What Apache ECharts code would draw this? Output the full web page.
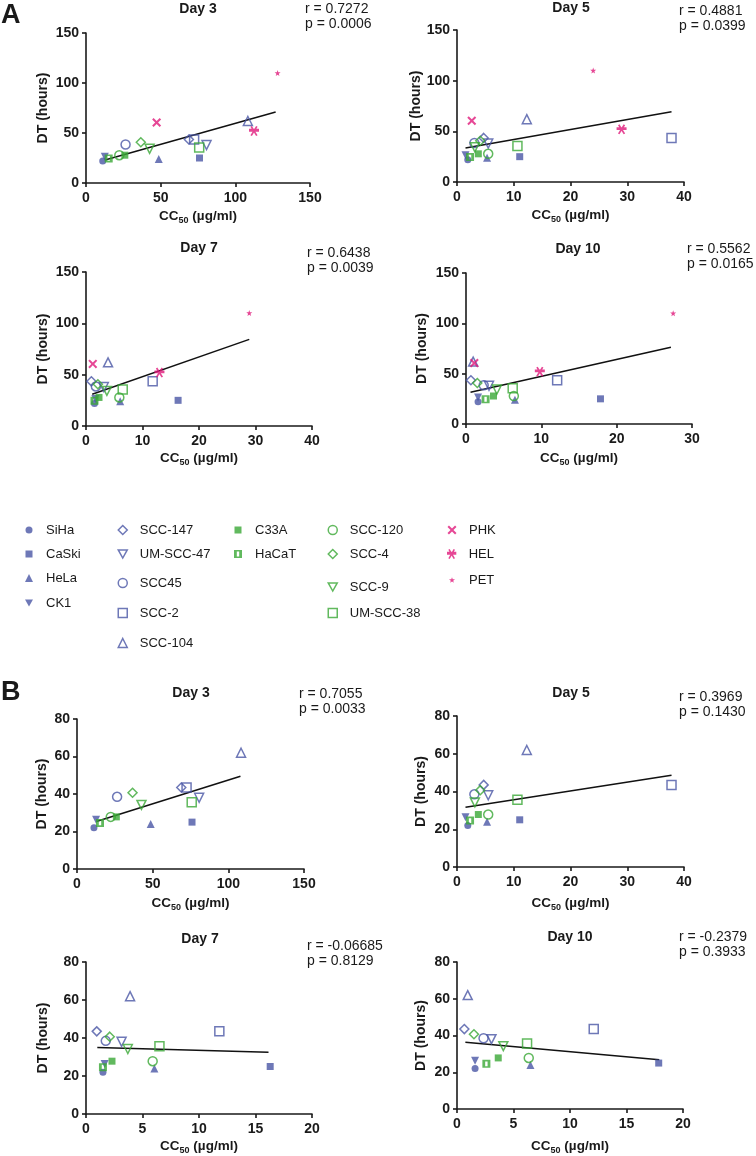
<!DOCTYPE html>
<html><head><meta charset="utf-8">
<script src="https://cdn.jsdelivr.net/npm/echarts@6/dist/echarts.min.js"></script>
<style>html,body{margin:0;padding:0;background:#fff}#c{width:756px;height:1156px}</style>
</head><body><div id="c"></div>
<script>
// ---------------- DATA ----------------
const cellLines = ['SiHa','CaSki','HeLa','CK1','SCC-147','UM-SCC-47','SCC45','SCC-2','SCC-104',
  'C33A','HaCaT','SCC-120','SCC-4','SCC-9','UM-SCC-38','PHK','HEL','PET'];
const normalCells = ['PHK','HEL','PET']; // shown only in panel A
const dtHours   = [22, 25, 24, 26.3, 43.5, 38, 38.5, 43.5, 62, 27.8, 24.6, 27.8, 40.7, 34.2, 35.6, 60.5, 52, 110];
const cc50Day3  = [11.2, 76, 48.7, 12.6, 68.9, 80.7, 26.5, 72.4, 108.4, 26, 15.2, 22.3, 36.7, 42.6, 75.8, 47.3, 112.5, 128.3];
const cc50Day5  = [1.9, 11.05, 5.3, 1.5, 4.7, 5.5, 3.06, 37.8, 12.3, 3.76, 2.3, 5.5, 4.1, 3.15, 10.65, 2.6, 29, 24];
const cc50Day7  = [1.5, 16.3, 6.05, 1.65, 0.95, 3.15, 1.75, 11.8, 3.9, 2.3, 1.5, 5.9, 2.1, 3.7, 6.5, 1.2, 13, 28.9];
const cc50Day10 = [1.6, 17.85, 6.5, 1.6, 0.65, 3.05, 2.35, 12.1, 0.95, 3.65, 2.6, 6.35, 1.5, 4.1, 6.2, 1.1, 9.8, 27.5];
const days = ['Day 3','Day 5','Day 7','Day 10'];
const rA = ['0.7272','0.4881','0.6438','0.5562'];
const pA = ['0.0006','0.0399','0.0039','0.0165'];
const rB = ['0.7055','0.3969','-0.06685','-0.2379'];
const pB = ['0.0033','0.1430','0.8129','0.3933'];
const fitAx = [[12.7,127],[1.5,37.8],[1.1,28.9],[0.6,27.2]];
const fitAy = [[23,71],[33.5,69.4],[31,84.4],[31.5,76.3]];
const fitBx = [[12.8,108],[1.5,37.8],[1.0,16.15],[0.74,17.9]];
const fitBy = [[25.3,49.5],[31.6,48.6],[35,32.5],[36.3,26.8]];
const xMaxA = [150,40,40,30], xStepA = [50,10,10,10];
const xMaxB = [150,40,20,20], xStepB = [50,10,5,5];
const yMaxA = 150, yStepA = 50, yMaxB = 80, yStepB = 20;

// ---------------- STYLE ----------------
const BLUE='#4a56a5', GREEN='#3aa836', PINK='#e0197a';
const FONT="'Liberation Sans', Arial, sans-serif";
const FONT_L = FONT, LEG_SIZE = 13;
const P_HALF='path://M0,0H10V10H0Z M3.5,2V8H6.5V2Z';
const P_DOWN='path://M0,0H10L5,9Z';
const P_X='path://M0,1.6L1.6,0L5,3.4L8.4,0L10,1.6L6.6,5L10,8.4L8.4,10L5,6.6L1.6,10L0,8.4L3.4,5Z';
const P_AST='path://M0,3.5H10V6.5H0Z M2.9,0.45L8.6,10.3L7.1,11.2L1.4,1.35Z M8.6,1.35L2.9,11.2L1.4,10.3L7.1,0.45Z';
const P_STAR='path://M5,0L6.176,3.382L9.755,3.455L6.902,5.618L7.939,9.045L5,7L2.061,9.045L3.098,5.618L0.245,3.455L3.824,3.382Z';
const mk = {
 'SiHa':{s:'circle',z:7,c:BLUE,f:1}, 'CaSki':{s:'rect',z:7,c:BLUE,f:1},
 'HeLa':{s:'triangle',z:8,c:BLUE,f:1}, 'CK1':{s:'triangle',z:8,c:BLUE,f:1,r:180},
 'SCC-147':{s:'diamond',z:9,c:BLUE}, 'UM-SCC-47':{s:'triangle',z:9,c:BLUE,r:180},
 'SCC45':{s:'circle',z:9,c:BLUE}, 'SCC-2':{s:'rect',z:9,c:BLUE}, 'SCC-104':{s:'triangle',z:9,c:BLUE},
 'C33A':{s:'rect',z:7,c:GREEN,f:1}, 'HaCaT':{s:P_HALF,z:8,c:GREEN,f:1},
 'SCC-120':{s:'circle',z:9,c:GREEN}, 'SCC-4':{s:'diamond',z:9,c:GREEN},
 'SCC-9':{s:'triangle',z:9,c:GREEN,r:180}, 'UM-SCC-38':{s:'rect',z:9,c:GREEN},
 'PHK':{s:P_X,z:9,c:PINK,f:1}, 'HEL':{s:P_AST,z:10,c:PINK,f:1}, 'PET':{s:P_STAR,z:6,c:PINK,f:1}
};
const legendPos = {
 'SiHa':[29,530],'CaSki':[29,554],'HeLa':[29,578],'CK1':[29,603],
 'SCC-147':[122,530],'UM-SCC-47':[122,554],'SCC45':[122,583],'SCC-2':[122,613],'SCC-104':[122,643],
 'C33A':[238,530],'HaCaT':[238,554],
 'SCC-120':[332,530],'SCC-4':[332,554],'SCC-9':[332,587],'UM-SCC-38':[332,613],
 'PHK':[452,530],'HEL':[452,554],'PET':[452,580]
};
const gridsA = [{left:86,top:33,width:224,height:150},{left:457,top:30,width:227,height:152},
                {left:86,top:272,width:226,height:154},{left:466,top:273,width:226,height:151}];
const gridsB = [{left:77,top:719,width:227,height:150},{left:457,top:716,width:227,height:151},
                {left:86,top:962,width:226,height:155},{left:457,top:962,width:226,height:150}];
const dayPosA = [[198,9],[571,8],[199,248],[578,249]];
const dayPosB = [[191,693],[571,693],[200,939],[570,937]];
const statPosA = [[305,9],[679,11],[307,253],[687,249]];
const statPosB = [[299,694],[679,697],[307,946],[679,937]];
const dtGapA=[36,28,36,37], dtGapB=[28,29,36,29];
const ccGapA=[24,24,23,25], ccGapB=[25,27,23,28];

// ---------------- BUILD ----------------
const cc50 = [cc50Day3, cc50Day5, cc50Day7, cc50Day10];
const grid=[], xAxis=[], yAxis=[], series=[], graphic=[], legend=[];
function txt(x,y,text,font,align){
  graphic.push({type:'text',x:x,y:y,silent:true,style:{text:text,font:font,fill:'#1a1a1a',
    textAlign:align,textVerticalAlign:'middle',align:align,verticalAlign:'middle'}});
}
function panel(gPos,k,xMax,xStep,yMax,yStep,includeNormal,fx,fy,r,p,dPos,sPos,dtGap,ccGap){
  const gi = grid.length;
  grid.push(Object.assign({containLabel:false},gPos));
  const axisCommon = {axisLine:{lineStyle:{color:'#1a1a1a',width:1.6}},
    axisTick:{show:true,inside:false,length:4,lineStyle:{color:'#1a1a1a',width:1.6}},
    splitLine:{show:false}, nameLocation:'middle'};
  xAxis.push(Object.assign({},axisCommon,{type:'value',gridIndex:gi,min:0,max:xMax,interval:xStep,
    axisLabel:{margin:8,fontFamily:FONT,fontWeight:'bold',fontSize:14,color:'#1a1a1a'},
    name:'CC{sub|50} (µg/ml)',nameGap:ccGap,
    nameTextStyle:{fontFamily:FONT,fontWeight:'bold',fontSize:13.5,color:'#1a1a1a',lineHeight:18,
      rich:{sub:{fontFamily:FONT,fontWeight:'bold',fontSize:9,lineHeight:9,verticalAlign:'bottom',color:'#1a1a1a'}}}}));
  yAxis.push(Object.assign({},axisCommon,{type:'value',gridIndex:gi,min:0,max:yMax,interval:yStep,
    axisLabel:{margin:7,fontFamily:FONT,fontWeight:'bold',fontSize:14,color:'#1a1a1a'},
    name:'DT (hours)',nameGap:dtGap,
    nameTextStyle:{fontFamily:FONT,fontWeight:'bold',fontSize:14,color:'#1a1a1a'}}));
  series.push({type:'line',xAxisIndex:gi,yAxisIndex:gi,data:[[fx[0],fy[0]],[fx[1],fy[1]]],
    showSymbol:false,symbol:'none',silent:true,lineStyle:{color:'#111',width:1.5},z:1});
  cellLines.forEach((name,i)=>{
    if(!includeNormal && normalCells.includes(name)) return;
    const m = mk[name];
    series.push({type:'scatter',name:name,xAxisIndex:gi,yAxisIndex:gi,
      data:[[cc50[k][i], dtHours[i]]],symbol:m.s,symbolSize:m.z,symbolRotate:m.r||0,z:3,
      itemStyle: m.f ? {color:m.c} : {color:'rgba(255,255,255,0)',borderColor:m.c,borderWidth:1.5}});
  });
  txt(dPos[0],dPos[1],days[k],'bold 14px '+FONT,'center');
  txt(sPos[0],sPos[1],'r = '+r,'14px '+FONT,'left');
  txt(sPos[0],sPos[1]+15.5,'p = '+p,'14px '+FONT,'left');
}
for(let k=0;k<4;k++) panel(gridsA[k],k,xMaxA[k],xStepA[k],yMaxA,yStepA,true,fitAx[k],fitAy[k],rA[k],pA[k],dayPosA[k],statPosA[k],dtGapA[k],ccGapA[k]);
for(let k=0;k<4;k++) panel(gridsB[k],k,xMaxB[k],xStepB[k],yMaxB,yStepB,false,fitBx[k],fitBy[k],rB[k],pB[k],dayPosB[k],statPosB[k],dtGapB[k],ccGapB[k]);

cellLines.forEach(name=>{
  const m = mk[name], pos = legendPos[name];
  const w = m.z;
  const l = {data:[name],left:pos[0]-w/2,top:pos[1]-8,itemWidth:w,itemHeight:w,padding:0,
    selectedMode:false,
    itemStyle: m.f ? {borderWidth:0} : {borderWidth:1.5,borderColor:m.c,color:'rgba(255,255,255,0)'},
    textStyle:{fontFamily:FONT_L,fontSize:LEG_SIZE,color:'#1a1a1a',lineHeight:16,padding:[0,0,0,17-w/2-5]}};
  if(m.r===180) l.icon = P_DOWN;
  legend.push(l);
});
txt(1,16,'A','bold 27px '+FONT,'left');
txt(1,693,'B','bold 27px '+FONT,'left');

const chart = echarts.init(document.getElementById('c'),null,{renderer:'canvas'});
chart.setOption({animation:false,backgroundColor:'#fff',grid,xAxis,yAxis,series,legend,graphic});
</script></body></html>
